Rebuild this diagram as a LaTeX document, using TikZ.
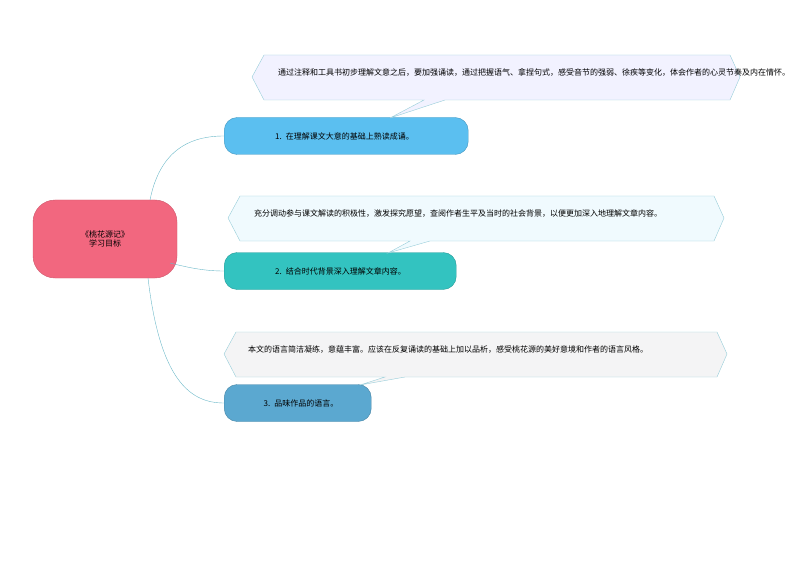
\documentclass[tikz,border=0pt]{standalone}
\usepackage{fontspec}
\setmainfont{Noto Sans CJK SC}
\usetikzlibrary{positioning}
\definecolor{rootpink}{HTML}{F2677F}
\definecolor{sky}{HTML}{5BBFF0}
\definecolor{teal}{HTML}{33C3C0}
\definecolor{steel}{HTML}{5BA8D0}
\definecolor{linkc}{HTML}{6BB8C8}
\tikzset{
  branch/.style={draw=#1!80!black, fill=#1, rounded corners=13pt, minimum height=37pt,
    anchor=west, align=left, inner sep=0pt, font=\fontsize{8}{9}\selectfont},
  link/.style={draw=linkc, thin},
  callfill/.style={fill=#1, draw=linkc!70, thin},
  calltext/.style={align=left, anchor=north west, font=\fontsize{8}{10}\selectfont, inner sep=0pt, text width=460pt},
}
\begin{document}
\begin{tikzpicture}[x=1pt,y=-1pt]
\useasboundingbox (0,0) rectangle (794,561);
% root
\node[draw=rootpink!85!black, fill=rootpink, rounded corners=22pt, minimum width=144pt,
  minimum height=78pt, align=center, font=\fontsize{8}{9}\selectfont] (root) at (105,239) {《桃花源记》\\学习目标};
% branches
\node[branch=sky, minimum width=244pt, text width=210pt] (b1) at (224,136) {\hspace*{34pt}1. 在理解课文大意的基础上熟读成诵。};
\node[branch=teal, minimum width=232pt, text width=198pt] (b2) at (224,271) {\hspace*{34pt}2. 结合时代背景深入理解文章内容。};
\node[branch=steel, minimum width=147pt, text width=120pt] (b3) at (224,403) {\hspace*{26pt}3. 品味作品的语言。};
% callouts
\filldraw[callfill={blue!5}] (264,55) -- (730,55) -- (740,77) -- (730,100) -- (445,100) -- (390,118) -- (424,100) -- (264,100) -- (252,77) -- cycle;
\filldraw[callfill={cyan!6}] (240,196) -- (714,196) -- (724,218) -- (714,241) -- (430,241) -- (388,253) -- (410,241) -- (240,241) -- (228,218) -- cycle;
\filldraw[callfill={blue!4!gray!8}] (236,332) -- (717,332) -- (727,354) -- (717,377) -- (405,377) -- (360,385) -- (385,377) -- (236,377) -- (224,354) -- cycle;
\node[calltext] (c1) at (278,68) {通过注释和工具书初步理解文意之后，要加强诵读，通过把握语气、拿捏句式，感受音节的强弱、徐疾等变化，体会作者的心灵节奏及内在情怀。};
\node[calltext] (c2) at (254,209) {充分调动参与课文解读的积极性，激发探究愿望，查阅作者生平及当时的社会背景，以便更加深入地理解文章内容。};
\node[calltext] (c3) at (248,345) {本文的语言简洁凝练，意蕴丰富。应该在反复诵读的基础上加以品析，感受桃花源的美好意境和作者的语言风格。};
% links
\draw[link] (150,200) .. controls (160,150) and (190,136) .. (b1.west);
\draw[link] (170,263) .. controls (190,268) and (205,271) .. (b2.west);
\draw[link] (148,278) .. controls (160,380) and (190,403) .. (b3.west);
\end{tikzpicture}
\end{document}
